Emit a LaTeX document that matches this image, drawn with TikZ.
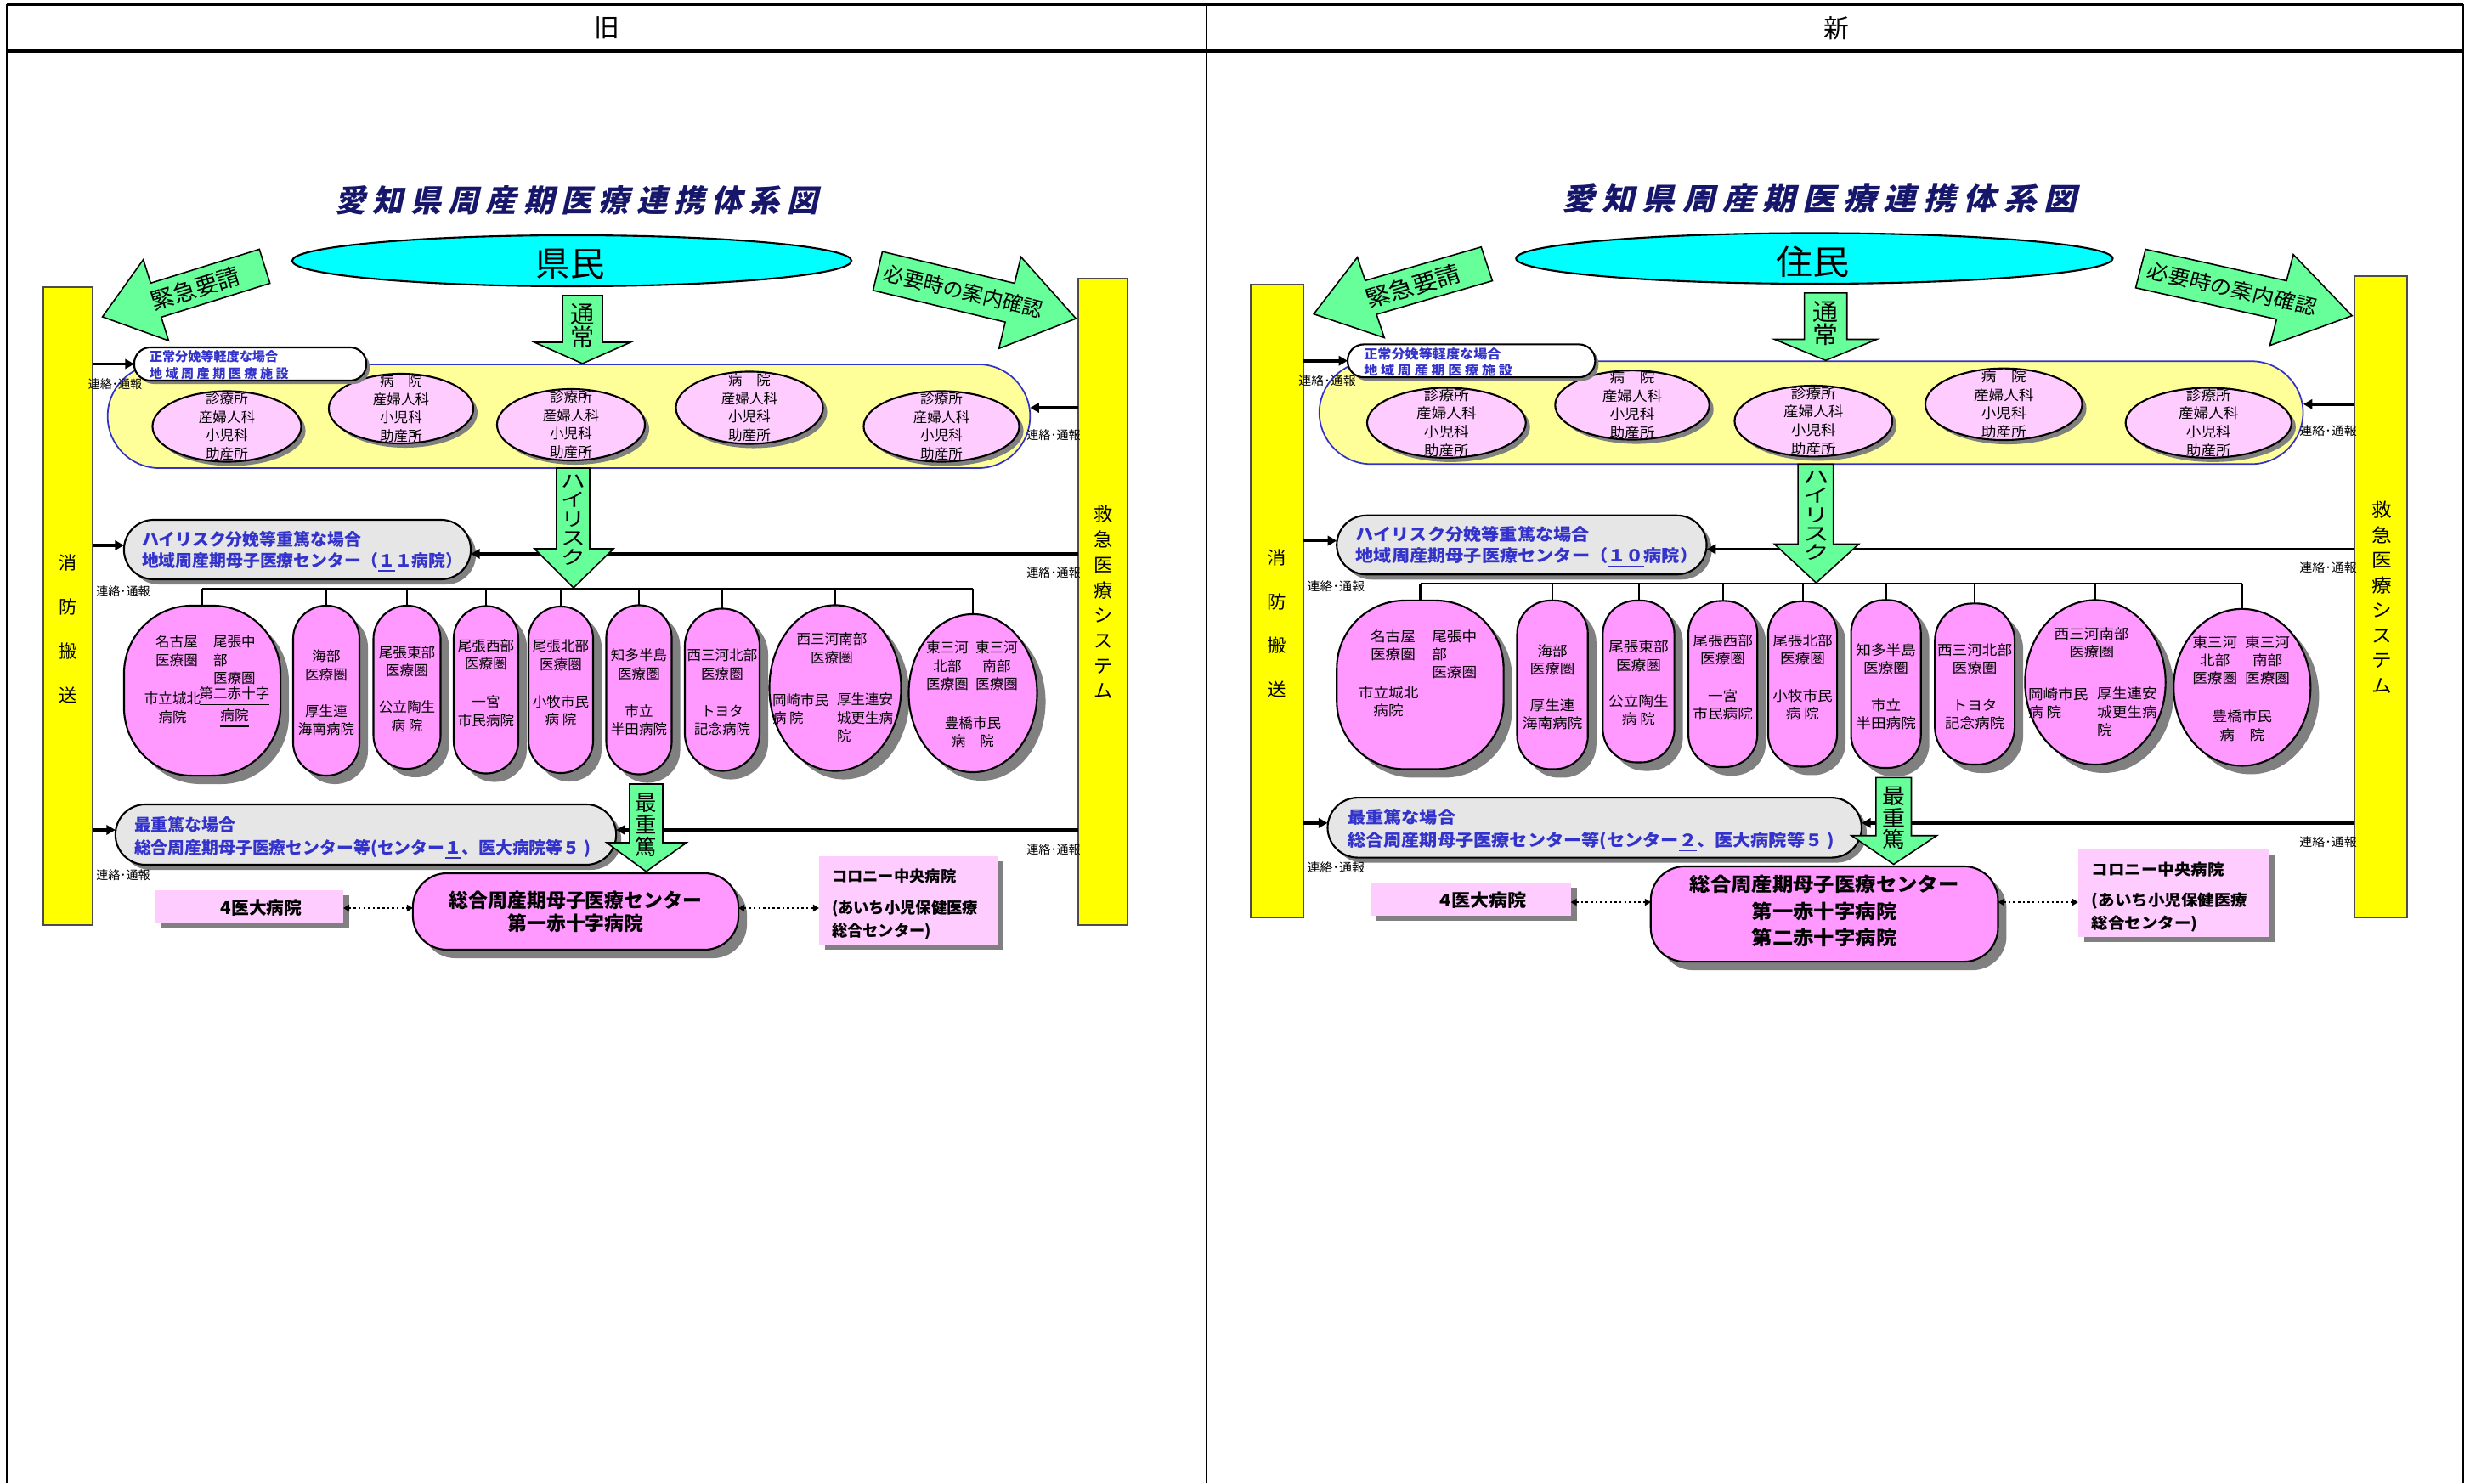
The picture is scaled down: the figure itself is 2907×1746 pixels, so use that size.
\documentclass[tikz,border=0pt]{standalone}
\usepackage{fontspec}
\setmainfont{Noto Sans CJK JP}
\newfontfamily\ttlfont[FakeSlant=0.22]{Noto Sans CJK JP}
\usetikzlibrary{shapes.geometric,arrows.meta,shadows}
\definecolor{agreen}{HTML}{66FF99}
\definecolor{rescyan}{HTML}{00FFFF}
\definecolor{baryellow}{HTML}{FFFF00}
\definecolor{bandfill}{HTML}{FFFF99}
\definecolor{bandline}{HTML}{3333CC}
\definecolor{lpink}{HTML}{FFCCFF}
\definecolor{mpink}{HTML}{FF99FF}
\definecolor{lgray}{HTML}{E6E6E6}
\definecolor{btext}{HTML}{3333CC}
\definecolor{navy}{HTML}{16166A}
\definecolor{shgray}{HTML}{808080}
\newcommand{\fsz}[2]{\fontsize{#1pt}{#2pt}\selectfont}
\newcommand{\fszt}[2]{\fontsize{#1pt}{#2pt}\selectfont\lineskiplimit=-50pt\relax}
\newcommand{\ztext}[1]{\makebox[0pt]{\smash{\raisebox{-0.37em}{\begin{tabular}{@{}c@{}}#1\end{tabular}}}}}
\newcommand{\wk}[1]{\scalebox{1.3}[1]{#1}}
\newcommand{\tsp}{\hspace{2.3pt}}
\newcommand{\ttltext}{愛\tsp 知\tsp 県\tsp 周\tsp 産\tsp 期\tsp 医\tsp 療\tsp 連\tsp 携\tsp 体\tsp 系\tsp 図}
\tikzset{
 every node/.style={inner sep=0pt, outer sep=0pt},
 ybar/.style={draw=black!70, line width=0.5pt, fill=baryellow, minimum width=0.58cm},
 bandbox/.style={draw=bandline, line width=0.5pt, fill=bandfill, rounded corners=0.61cm, minimum width=10.85cm, minimum height=1.22cm},
 clinic/.style={ellipse, draw=black, line width=0.6pt, fill=lpink, drop shadow={shadow xshift=0.05cm, shadow yshift=-0.05cm, fill=shgray, opacity=1}, font=\fsz{4.7}{6.2}},
 hosp/.style={draw=black, line width=0.6pt, fill=mpink, drop shadow={shadow xshift=0.1cm, shadow yshift=-0.1cm, fill=shgray, opacity=1}},
 hell/.style={hosp, ellipse},
 htxt/.style={font=\fsz{4.7}{6.1}, align=center},
 pill/.style={draw=black, line width=0.6pt, fill=lgray, drop shadow={shadow xshift=0.06cm, shadow yshift=-0.06cm, fill=shgray, opacity=1}},
 btxt/.style={font=\bfseries\fsz{5.65}{7.1}, text=btext, align=left},
 normbox/.style={draw=black, line width=0.6pt, fill=white, rounded corners=0.19cm, drop shadow={shadow xshift=0.04cm, shadow yshift=-0.04cm, fill=shgray, opacity=1}},
 conn/.style={line width=1pt, -{Triangle[length=3pt,width=3.2pt]}},
 tline/.style={line width=0.6pt},
 garrow/.style={draw=black, line width=0.45pt, fill=agreen},
 note/.style={font=\fsz{4}{5}},
 pinkbox/.style={fill=lpink, drop shadow={shadow xshift=0.07cm, shadow yshift=-0.06cm, fill=shgray, opacity=1}},
 ctrbox/.style={hosp, rounded corners=0.4cm, minimum width=3.83cm, align=center},
 dotarrow/.style={line width=0.7pt, dash pattern=on 0.7pt off 0.9pt, {Triangle[length=2pt,width=2.3pt]}-{Triangle[length=2pt,width=2.3pt]}},
}
% #1 resident, #2 highrisk count, #3 extra H1 text, #4 severe digit,
% #5 center text, #6 center pos, #7 center height, #8 dotted y, #9 center baselineskip
\newcommand{\drawpanel}[9]{%
 \node[font=\ttlfont\bfseries\fsz{10.3}{12}, text=navy] (title) at (678.5,236) {\ttltext};
 \node[ellipse, draw=black, line width=0.6pt, fill=rescyan, minimum width=6.58cm, minimum height=0.60cm] (res) at (673,307) {};
 \node[font=\fsz{11.5}{13}] (rest) at (671,311) {#1};
 % bars
 \node[ybar, minimum height=7.51cm] (lbar) at (80,713.5) {};
 \node[ybar, minimum height=7.61cm] (rbar) at (1298,708.5) {};
 \node[font=\fsz{6}{14.8}, align=center] (lbart) at (80,740) {消\\防\\搬\\送};
 \node[font=\fsz{6.3}{8.45}, align=center] (rbart) at (1299,709) {救\\急\\医\\療\\シ\\ス\\テ\\ム};
 % band of clinics
 \node[bandbox] (band) at (669.5,490) {};
 \node[clinic, minimum width=1.75cm, minimum height=0.83cm] (c1) at (267,502) {\ztext{診療所\\産婦人科\\小児科\\助産所}};
 \node[clinic, minimum width=1.70cm, minimum height=0.82cm] (c2) at (472,481) {\ztext{病　院\\産婦人科\\小児科\\助産所}};
 \node[clinic, minimum width=1.74cm, minimum height=0.84cm] (c3) at (672,500) {\ztext{診療所\\産婦人科\\小児科\\助産所}};
 \node[clinic, minimum width=1.73cm, minimum height=0.85cm] (c4) at (882,480) {\ztext{病　院\\産婦人科\\小児科\\助産所}};
 \node[clinic, minimum width=1.83cm, minimum height=0.83cm] (c5) at (1108,502) {\ztext{診療所\\産婦人科\\小児科\\助産所}};
 \node[normbox, minimum width=2.73cm, minimum height=0.39cm] (norm) at (294.5,428.5) {};
 \node[font=\bfseries\fsz{4.3}{5.7}, text=btext, align=left, anchor=west] (normt) at (176,430) {正常分娩等軽度な場合\\地 域 周 産 期 医 療 施 設};
 % pills
 \node[pill, minimum width=4.08cm, minimum height=0.70cm, rounded corners=0.35cm] (hr) at (350,647) {};
 \node[btxt, anchor=west] (hrt) at (167,649.5) {ハイリスク分娩等重篤な場合\\地域周産期母子医療センター#2};
 \node[pill, minimum width=5.89cm, minimum height=0.71cm, rounded corners=0.355cm] (sev) at (430.5,982.5) {};
 \node[btxt, font=\bfseries\fsz{5.65}{7.7}, anchor=west] (sevt) at (158,986.5) {最重篤な場合\\総合周産期母子医療センター等(センター#4、医大病院等５ )};
 % hospitals
 \node[hosp, rounded corners=0.8cm, minimum width=1.84cm, minimum height=2.00cm] (h1) at (238,813) {};
 \node[hosp, rounded corners=0.39cm, minimum width=0.78cm, minimum height=2.00cm] (h2) at (384,813) {};
 \node[hosp, rounded corners=0.395cm, minimum width=0.79cm, minimum height=1.92cm] (h3) at (479,809) {};
 \node[hosp, rounded corners=0.38cm, minimum width=0.76cm, minimum height=1.97cm] (h4) at (572,812) {};
 \node[hosp, rounded corners=0.38cm, minimum width=0.76cm, minimum height=1.96cm] (h5) at (660,812) {};
 \node[hosp, rounded corners=0.385cm, minimum width=0.77cm, minimum height=1.99cm] (h6) at (752,812) {};
 \node[hosp, rounded corners=0.44cm, minimum width=0.88cm, minimum height=1.91cm] (h7) at (850,812) {};
 \node[hell, minimum width=1.55cm, minimum height=1.95cm] (h8) at (983,810) {};
 \node[hell, minimum width=1.51cm, minimum height=1.86cm] (h9) at (1145,816) {};
 \node[htxt] (h1a) at (208,766) {名古屋\\医療圏};
 \node[htxt, align=left, anchor=west] (h1b) at (251,777) {尾張中\\部\\医療圏};
 \node[htxt] (h1c) at (203,833) {市立城北\\病院};
 #3
 \node[htxt] (h2t) at (384,815.5) {海部\\医療圏\\[6.1pt]厚生連\\海南病院};
 \node[htxt] (h3t) at (479,811) {尾張東部\\医療圏\\[6.1pt]公立陶生\\病 院};
 \node[htxt] (h4t) at (572,804) {尾張西部\\医療圏\\[6.6pt]一宮\\市民病院};
 \node[htxt] (h5t) at (660,804) {尾張北部\\医療圏\\[6.4pt]小牧市民\\病 院};
 \node[htxt] (h6t) at (752,815) {知多半島\\医療圏\\[6.4pt]市立\\半田病院};
 \node[htxt] (h7t) at (850,815) {西三河北部\\医療圏\\[6.4pt]トヨタ\\記念病院};
 \node[htxt] (h8a) at (979,763) {西三河南部\\医療圏};
 \node[htxt, align=left, anchor=west] (h8b) at (909,834.5) {岡崎市民\\病 院};
 \node[htxt, align=left, anchor=west] (h8c) at (985,845) {厚生連安\\城更生病\\院};
 \node[htxt] (h9a) at (1115,784) {東三河\\北部\\医療圏};
 \node[htxt] (h9b) at (1173,784) {東三河\\南部\\医療圏};
 \node[htxt] (h9c) at (1145,861.5) {豊橋市民\\病　院};
 % tree
 \coordinate (ty) at (0,693);
 \draw[tline] (h1.north |- ty) -- (h9.north |- ty);
 \draw[tline] (h1.north) -- (h1.north |- ty);
 \draw[tline] (h2.north) -- (h2.north |- ty);
 \draw[tline] (h3.north) -- (h3.north |- ty);
 \draw[tline] (h4.north) -- (h4.north |- ty);
 \draw[tline] (h5.north) -- (h5.north |- ty);
 \draw[tline] (h6.north) -- (h6.north |- ty);
 \draw[tline] (h7.north) -- (h7.north |- ty);
 \draw[tline] (h8.north) -- (h8.north |- ty);
 \draw[tline] (h9.north) -- (h9.north |- ty);
 % connectors
 \draw[conn] (lbar.east |- norm.west) -- (norm.west);
 \coordinate (yb) at (0,480);
 \draw[conn] (rbar.west |- yb) -- (band.east |- yb);
 \coordinate (yc) at (0,642);
 \draw[conn] (lbar.east |- yc) -- (hr.west |- yc);
 \coordinate (yd) at (0,652);
 \draw[conn] (rbar.west |- yd) -- (hr.east |- yd);
 \coordinate (ye) at (0,977);
 \draw[conn] (lbar.east |- ye) -- (sev.west |- ye);
 \draw[conn] (rbar.west |- ye) -- (sev.east |- ye);
 \node[note] (n1) at (135.5,452) {連絡･通報};
 \node[note] (n2) at (1240,512) {連絡･通報};
 \node[note] (n3) at (145,696) {連絡･通報};
 \node[note] (n4) at (1240,674) {連絡･通報};
 \node[note] (n5) at (145,1030) {連絡･通報};
 \node[note] (n6) at (1240,1000) {連絡･通報};
 % green arrows
 \begin{scope}[shift={(311.5,313.5)}, rotate=197.3]
  \draw[garrow] (0,-21) -- (134,-21) -- (134,-50) -- (200,0) -- (134,50) -- (134,21) -- (0,21) -- cycle;
 \end{scope}
 \node[font=\fsz{7.7}{9}, rotate=17.3] (kt) at (230,340) {緊急要請};
 \begin{scope}[shift={(1033,319)}, rotate=-13.5]
  \draw[garrow] (0,-23.5) -- (160,-23.5) -- (160,-55.5) -- (240,0) -- (160,55.5) -- (160,23.5) -- (0,23.5) -- cycle;
 \end{scope}
 \node[font=\fsz{6.8}{8}, rotate=-13.5] (nt) at (1134,343) {必要時の案内確認};
 \draw[garrow] (662,348) -- (709,348) -- (709,403) -- (742,403) -- (685.5,428) -- (629,403) -- (662,403) -- cycle;
 \node[font=\fszt{8}{7.7}, align=center] (tt) at (685.5,384) {通\\常};
 \draw[garrow] (655,551) -- (694,551) -- (694,646) -- (722,646) -- (675,692) -- (629,646) -- (655,646) -- cycle;
 \node[font=\fszt{6.3}{6.4}, align=center] (hrat) at (675,612) {\wk{ハ}\\\wk{イ}\\\wk{リ}\\\wk{ス}\\\wk{ク}};
 \draw[garrow] (741,923) -- (780,923) -- (780,992) -- (808,992) -- (760.5,1026) -- (714,992) -- (741,992) -- cycle;
 \node[font=\fszt{7.2}{7.4}, align=center] (sat) at (760.5,971) {最\\重\\篤};
 % bottom boxes
 \node[pinkbox, minimum width=2.21cm, minimum height=0.39cm] (idai) at (293.5,1067.5) {};
 \node[font=\bfseries\fsz{5.9}{7}] (idait) at (307.5,1069) {4医大病院};
 \node[ctrbox, minimum height=#7, font=\bfseries\fsz{6.5}{#9}] (ctr) at (#6) {#5};
 \node[pinkbox, minimum width=2.10cm, minimum height=1.04cm] (col) at (1069,1060) {};
 \node[font=\bfseries\fsz{5.2}{7.7}, align=left, anchor=west] (colt) at (979,1065) {コロニー中央病院\\[2.8pt](あいち小児保健医療\\総合センター)};
 \coordinate (dy) at (0,#8);
 \draw[dotarrow] (idai.east |- dy) -- (ctr.west |- dy);
 \draw[dotarrow] (ctr.east |- dy) -- (col.west |- dy);
}
\begin{document}
\begin{tikzpicture}[x=0.01cm, y=-0.01cm]
\useasboundingbox (0,0) rectangle (2907,1746);
\fill[white] (0,0) rectangle (2907,1746);
% frame
\draw[line width=1pt] (8,5) -- (2899,5);
\draw[line width=1.2pt] (8,60) -- (2899,60);
\draw[line width=0.7pt] (8,5) -- (8,1746);
\draw[line width=0.7pt] (1420,5) -- (1420,1746);
\draw[line width=0.7pt] (2899,5) -- (2899,1746);
\node[font=\fsz{8.5}{10}] (hold) at (714,33) {旧};
\node[font=\fsz{8.5}{10}] (hnew) at (2161,33) {新};
\begin{scope}[name prefix=L-]
\drawpanel{県民}{（\underline{１}１病院）}{\node[htxt] (h1d) at (276,833) {\underline{第二赤十字}\\\underline{病院}};}{\underline{１}}{総合周産期母子医療センター\\第一赤十字病院}{677.5,1073}{0.90cm}{1069}{7.7}
\end{scope}
\begin{scope}[shift={(1417.6,-0.3)}, xscale=1.0665, yscale=0.992, transform shape, name prefix=R-]
\drawpanel{住民}{（\underline{１０}病院）}{}{\underline{２}}{総合周産期母子医療センター\\第一赤十字病院\\\underline{第二赤十字病院}}{684,1085}{1.13cm}{1071}{9}
\end{scope}
\end{tikzpicture}
\end{document}
